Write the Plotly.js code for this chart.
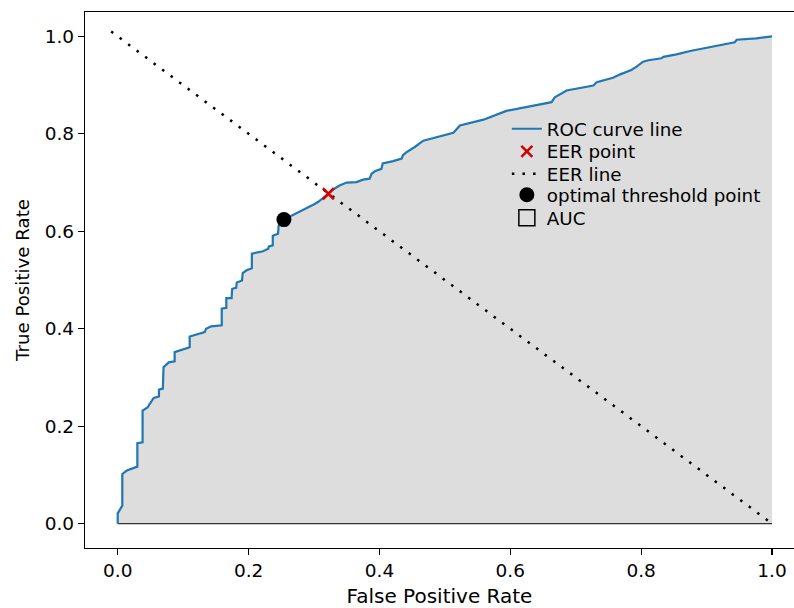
<!DOCTYPE html>
<html>
<head>
<meta charset="utf-8">
<script src="https://cdn.plot.ly/plotly-3.0.1.min.js"></script>
<style>html,body{margin:0;padding:0;background:#fff;}#chart{width:794px;height:608px;}</style>
</head>
<body>
<div id="chart"></div>
<script>
// ROC curve points (False Positive Rate, True Positive Rate)
var fpr = [0, 0, 0.007, 0.007, 0.014, 0.030, 0.030, 0.038, 0.038, 0.046, 0.049, 0.055, 0.063, 0.063, 0.069, 0.070,
  0.078, 0.087, 0.087, 0.110, 0.110, 0.133, 0.135, 0.143, 0.159, 0.159, 0.166, 0.166, 0.174, 0.175, 0.181, 0.182,
  0.190, 0.191, 0.197, 0.205, 0.205, 0.212, 0.222, 0.230, 0.231, 0.237, 0.237, 0.245, 0.246, 0.254, 0.266, 0.283,
  0.286, 0.296, 0.301, 0.306, 0.311, 0.321, 0.327, 0.339, 0.350, 0.365, 0.375, 0.385, 0.388, 0.393, 0.403, 0.405,
  0.421, 0.434, 0.436, 0.441, 0.454, 0.462, 0.467, 0.513, 0.523, 0.559, 0.594, 0.663, 0.668, 0.686, 0.727, 0.732,
  0.745, 0.757, 0.768, 0.785, 0.793, 0.803, 0.811, 0.831, 0.834, 0.854, 0.875, 0.900, 0.943, 0.946, 0.976, 1.0];
var tpr = [0, 0.021, 0.037, 0.102, 0.109, 0.117, 0.165, 0.167, 0.232, 0.239, 0.246, 0.258, 0.261, 0.275, 0.277, 0.321,
  0.331, 0.333, 0.352, 0.362, 0.384, 0.393, 0.400, 0.405, 0.407, 0.441, 0.443, 0.463, 0.463, 0.482, 0.484, 0.495,
  0.499, 0.514, 0.520, 0.524, 0.554, 0.556, 0.559, 0.564, 0.569, 0.571, 0.591, 0.595, 0.612, 0.624, 0.632, 0.643,
  0.646, 0.651, 0.656, 0.660, 0.665, 0.676, 0.684, 0.694, 0.700, 0.701, 0.706, 0.708, 0.718, 0.723, 0.728, 0.739,
  0.744, 0.749, 0.756, 0.762, 0.773, 0.780, 0.786, 0.802, 0.817, 0.829, 0.847, 0.865, 0.875, 0.889, 0.899, 0.906,
  0.910, 0.915, 0.922, 0.931, 0.938, 0.948, 0.951, 0.955, 0.958, 0.963, 0.970, 0.977, 0.988, 0.993, 0.996, 1.0];

var eerPointX = [0.322];
var eerPointY = [0.677];
var eerLineX = [-0.01, 1.0];
var eerLineY = [1.01, 0.0];
var optX = [0.254];
var optY = [0.624];

var tickVals = [0, 0.2, 0.4, 0.6, 0.8, 1.0];
var tickText = ['0.0', '0.2', '0.4', '0.6', '0.8', '1.0'];

var FONT = 'DejaVu Sans, sans-serif';
var LEG_FONT = { family: FONT, size: 18.3, color: '#000000' };

var traces = [
  { x: fpr, y: tpr, mode: 'lines', fill: 'tozeroy', fillcolor: '#dddddd',
    line: { width: 0, color: '#dddddd' }, showlegend: false, hoverinfo: 'skip' },
  { x: [fpr[0], fpr[fpr.length - 1]], y: [tpr[0], tpr[0]], mode: 'lines',
    line: { color: '#333333', width: 1.2 }, showlegend: false, hoverinfo: 'skip' },
  { x: fpr, y: tpr, mode: 'lines', name: 'ROC curve line', legend: 'legend',
    line: { color: '#1f77b4', width: 2.2 } },
  { x: eerLineX, y: eerLineY, mode: 'lines', name: 'EER line', legend: 'legend3',
    line: { color: '#000000', width: 2.5, dash: '2.5px,8.1px' } },
  { x: eerPointX, y: eerPointY, mode: 'markers', name: 'EER point', legend: 'legend2',
    marker: { symbol: 'x-thin', size: 11, color: '#d00000', line: { color: '#d00000', width: 2.5 } } },
  { x: optX, y: optY, mode: 'markers', name: 'optimal threshold point', legend: 'legend4',
    marker: { symbol: 'circle', size: 15, color: '#000000' } },
  { x: [null], y: [null], mode: 'markers', name: 'AUC', legend: 'legend5',
    marker: { symbol: 'square', size: 18, color: '#dddddd', line: { color: '#000000', width: 1.5 } } }
];

function leg(y, sizing) {
  return { x: 0.595, y: y, xanchor: 'left', yanchor: 'top', bgcolor: 'rgba(0,0,0,0)',
    borderwidth: 0, font: LEG_FONT, itemsizing: sizing || 'trace' };
}

var layout = {
  width: 794, height: 608,
  margin: { l: 85, r: 0, t: 12, b: 60 },
  paper_bgcolor: '#ffffff', plot_bgcolor: '#ffffff',
  font: { family: FONT, size: 18, color: '#000000' },
  showlegend: true,
  legend: leg(0.8165),
  legend2: leg(0.7745),
  legend3: leg(0.7325),
  legend4: leg(0.6933),
  legend5: leg(0.6504),
  xaxis: {
    range: [-0.05, 1.0336], tickvals: tickVals, ticktext: tickText,
    showgrid: false, zeroline: false, showline: true, linecolor: '#000000', linewidth: 1.2,
    mirror: true, ticks: 'outside', ticklen: 6, tickwidth: 1.2, tickcolor: '#000000',
    tickfont: { family: FONT, size: 18.5, color: '#000000' },
    title: { text: 'False Positive Rate', font: { family: FONT, size: 20, color: '#000000' }, standoff: 11 },
    automargin: false
  },
  yaxis: {
    range: [-0.05, 1.05], tickvals: tickVals, ticktext: tickText,
    showgrid: false, zeroline: false, showline: true, linecolor: '#000000', linewidth: 1.2,
    mirror: false, ticks: 'outside', ticklen: 6, tickwidth: 1.2, tickcolor: '#000000',
    tickfont: { family: FONT, size: 18.5, color: '#000000' },
    title: { text: 'True Positive Rate', font: { family: FONT, size: 18.2, color: '#000000' }, standoff: 10 },
    automargin: false
  }
};

Plotly.newPlot('chart', traces, layout, { displayModeBar: false, staticPlot: true });
</script>
</body>
</html>
